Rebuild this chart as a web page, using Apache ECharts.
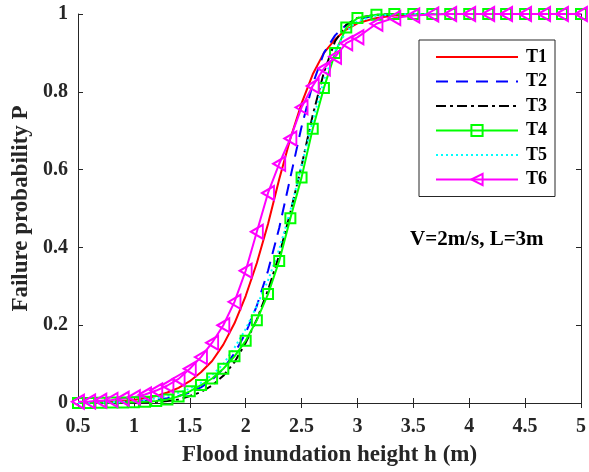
<!DOCTYPE html>
<html>
<head>
<meta charset="utf-8">
<script src="https://cdn.jsdelivr.net/npm/echarts@6/dist/echarts.min.js"></script>
<style>
html,body{margin:0;padding:0;background:#fff;}
#chart{width:589px;height:472px;}
</style>
</head>
<body>
<div id="chart"></div>
<script>
// Flood inundation height h (m)
const hValues = [0.5,0.6,0.7,0.8,0.9,1.0,1.1,1.2,1.3,1.4,1.5,1.6,1.7,1.8,1.9,2.0,2.1,2.2,2.3,2.4,2.5,2.6,2.7,2.8,2.9,3.0,
                 3.17,3.33,3.5,3.67,3.83,4.0,4.17,4.33,4.5,4.67,4.83,5.0];
const seriesNames = ['T1','T2','T3','T4','T5','T6'];
const T1 = [0.001,0.001,0.002,0.003,0.005,0.008,0.012,0.018,0.027,0.039,0.056,0.079,0.108,0.15,0.205,0.275,0.36,0.46,0.575,0.68,0.77,0.845,0.9,0.935,0.96,0.976,
            0.99,0.996,0.999,1,1,1,1,1,1,1,1,1];
const T2 = [0,0,0.0005,0.001,0.002,0.003,0.005,0.008,0.012,0.018,0.027,0.04,0.06,0.088,0.128,0.18,0.25,0.34,0.45,0.58,0.71,0.82,0.9,0.945,0.972,0.987,
            0.996,0.999,1,1,1,1,1,1,1,1,1,1];
const T3 = [0,0,0,0,0.0005,0.001,0.002,0.003,0.005,0.009,0.018,0.028,0.045,0.07,0.105,0.155,0.215,0.29,0.38,0.49,0.61,0.74,0.85,0.93,0.972,0.99,
            0.998,1,1,1,1,1,1,1,1,1,1,1];
const T4 = [0,0,0.0005,0.001,0.001,0.002,0.003,0.005,0.009,0.017,0.03,0.046,0.063,0.088,0.12,0.16,0.213,0.28,0.365,0.475,0.58,0.705,0.81,0.9,0.965,0.99,
            0.998,1,1,1,1,1,1,1,1,1,1,1];
const T5 = [0,0.0005,0.001,0.002,0.003,0.005,0.008,0.012,0.018,0.026,0.037,0.052,0.072,0.1,0.142,0.19,0.25,0.315,0.395,0.495,0.61,0.725,0.83,0.905,0.955,0.982,
            0.995,0.999,1,1,1,1,1,1,1,1,1,1];
const T6 = [0.003,0.004,0.006,0.008,0.011,0.015,0.022,0.032,0.045,0.062,0.088,0.118,0.155,0.2,0.26,0.34,0.44,0.54,0.615,0.68,0.76,0.815,0.86,0.89,0.925,0.94,
            0.975,0.99,0.996,0.999,1,1,1,1,1,1,1,1];
const xTicks = {min:0.5, max:5, interval:0.5};
const yTicks = {min:0, max:1, interval:0.2};
const noteText = 'V=2m/s, L=3m';

const FONT = '"Liberation Serif","Times New Roman",serif';
const AX = '#262626';
const CLEAR = 'rgba(255,255,255,0)';
function pairs(v){ return hValues.map((h,i)=>[h, v[i]]); }

const chart = echarts.init(document.getElementById('chart'), null, {renderer:'canvas'});
const baseAxis = {
  axisLine:{show:true, lineStyle:{color:AX, width:1}},
  axisTick:{show:true, inside:true, length:5, lineStyle:{color:AX}},
  splitLine:{show:false}
};
chart.setOption({
  animation:false,
  backgroundColor:'#fff',
  grid:{left:78, right:6, top:14, bottom:69, containLabel:false},
  xAxis:[
    Object.assign({type:'value', position:'bottom', min:xTicks.min, max:xTicks.max, interval:xTicks.interval,
      name:'Flood inundation height h (m)', nameLocation:'middle', nameGap:41,
      nameTextStyle:{fontFamily:FONT, fontWeight:'bold', fontSize:23, color:AX},
      axisLabel:{fontFamily:FONT, fontWeight:'bold', fontSize:20, color:AX, margin:14}}, baseAxis),
    Object.assign({type:'value', position:'top', min:xTicks.min, max:xTicks.max, interval:xTicks.interval,
      axisLabel:{show:false}}, baseAxis)
  ],
  yAxis:[
    Object.assign({type:'value', position:'left', min:yTicks.min, max:yTicks.max, interval:yTicks.interval,
      name:'Failure probability P', nameLocation:'middle', nameGap:45,
      nameTextStyle:{fontFamily:FONT, fontWeight:'bold', fontSize:23, color:AX},
      axisLabel:{fontFamily:FONT, fontWeight:'bold', fontSize:20, color:AX, margin:10}}, baseAxis),
    Object.assign({type:'value', position:'right', min:yTicks.min, max:yTicks.max, interval:yTicks.interval,
      axisLabel:{show:false}}, baseAxis)
  ],
  legend:{
    orient:'vertical', left:419, top:40, padding:[8,8,8,16],
    itemWidth:82, itemHeight:14, itemGap:6.5,
    backgroundColor:'#fff', borderColor:AX, borderWidth:1,
    textStyle:{fontFamily:FONT, fontWeight:'bold', fontSize:18, color:'#000', padding:[0,0,0,3]},
    data:seriesNames
  },
  graphic:[{
    type:'text', left:410, top:229,
    style:{text:noteText, font:'bold 21px '+FONT, fill:'#000'}
  }],
  series:[
    {name:'T1', type:'line', data:pairs(T1), symbol:'none', lineStyle:{color:'#ff0000', width:2}, itemStyle:{color:CLEAR}},
    {name:'T2', type:'line', data:pairs(T2), symbol:'none', lineStyle:{color:'#0000ff', width:2, type:[12,8]}, itemStyle:{color:CLEAR}},
    {name:'T3', type:'line', data:pairs(T3), symbol:'none', lineStyle:{color:'#000000', width:2, type:[10,4,3,4]}, itemStyle:{color:CLEAR}},
    {name:'T4', type:'line', data:pairs(T4), symbol:'rect', symbolSize:10, showSymbol:true,
      lineStyle:{color:'#00ff00', width:2}, itemStyle:{color:CLEAR, borderColor:'#00ff00', borderWidth:2}},
    {name:'T5', type:'line', data:pairs(T5), symbol:'none', lineStyle:{color:'#00ffff', width:2, type:[2,3]}, itemStyle:{color:CLEAR}},
    {name:'T6', type:'line', data:pairs(T6), symbol:'triangle', symbolSize:[14,12], symbolRotate:90, showSymbol:true,
      lineStyle:{color:'#ff00ff', width:2}, itemStyle:{color:CLEAR, borderColor:'#ff00ff', borderWidth:2}}
  ]
});
</script>
</body>
</html>
